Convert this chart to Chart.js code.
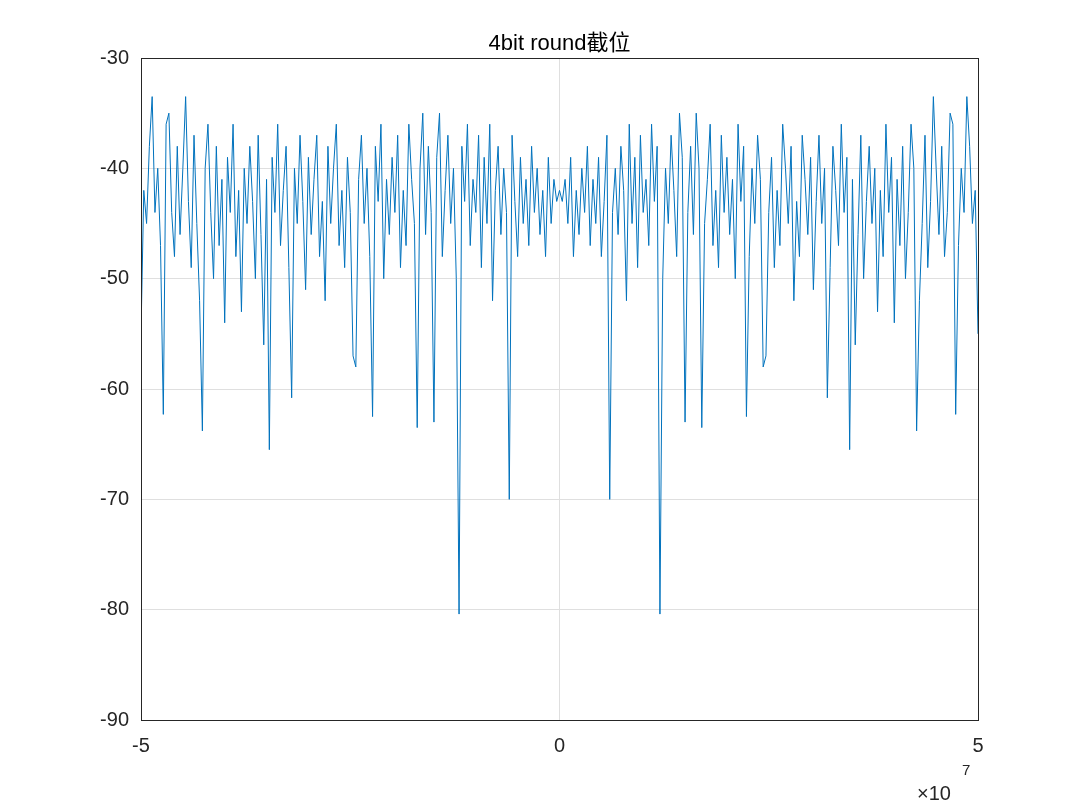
<!DOCTYPE html>
<html><head><meta charset="utf-8">
<script src="https://cdn.jsdelivr.net/npm/chart.js@4"></script>
<style>html,body{margin:0;padding:0;background:#fff}#c{display:block}</style>
</head><body><canvas id="c" width="1080" height="810"></canvas>
<script>
const titleText = "4bit round截位";
const xMin = -5, xMax = 5;
const xTicks = [-5, 0, 5];
const yTicks = [-90,-80,-70,-60,-50,-40,-30];
const yValues = [
-55,-42,-45,-38,-33.5,-44,-40,-47,-62.3,-36,
-35,-44,-48,-38,-46,-40,-33.5,-43,-49,-37,
-45,-52,-63.8,-40,-36,-44,-50,-38,-47,-41,
-54,-39,-44,-36,-48,-42,-53,-40,-45,-38,
-43,-50,-37,-46,-56,-41,-65.5,-39,-44,-36,
-47,-42,-38,-49,-60.8,-40,-45,-37,-43,-51,
-39,-46,-41,-37,-48,-43,-52,-38,-45,-40,
-36,-47,-42,-49,-39,-44,-57,-58,-41,-37,
-45,-40,-48,-62.5,-38,-43,-36,-50,-41,-46,
-39,-44,-37,-49,-42,-47,-36,-41,-45,-63.5,
-40,-35,-46,-38,-44,-63,-39,-35,-48,-42,
-37,-45,-40,-50,-80.4,-38,-43,-36,-47,-41,
-44,-37,-49,-39,-45,-36,-52,-42,-38,-46,
-40,-44,-70,-37,-43,-48,-39,-45,-41,-47,
-38,-44,-40,-46,-42,-48,-39,-45,-41,-43,
-42,
-43,-41,-45,-39,-48,-42,-46,-40,-44,-38,
-47,-41,-45,-39,-48,-43,-37,-70,-44,-40,
-46,-38,-42,-52,-36,-45,-39,-49,-37,-44,
-41,-47,-36,-43,-38,-80.4,-50,-40,-45,-37,
-42,-48,-35,-39,-63,-44,-38,-46,-35,-40,
-63.5,-45,-41,-36,-47,-42,-49,-37,-44,-39,
-46,-41,-50,-36,-43,-38,-62.5,-48,-40,-45,
-37,-41,-58,-57,-44,-39,-49,-42,-47,-36,
-40,-45,-38,-52,-43,-48,-37,-41,-46,-39,
-51,-43,-37,-45,-40,-60.8,-49,-38,-42,-47,
-36,-44,-39,-65.5,-41,-56,-46,-37,-50,-43,
-38,-45,-40,-53,-42,-48,-36,-44,-39,-54,
-41,-47,-38,-50,-44,-36,-40,-63.8,-52,-45,
-37,-49,-43,-33.5,-40,-46,-38,-48,-44,-35,
-36,-62.3,-47,-40,-44,-33.5,-38,-45,-42,-55
];
const step = (xMax - xMin) / (yValues.length - 1);
const points = yValues.map((y, i) => ({x: xMin + i * step, y}));
const font = {family: "Arial, 'Liberation Sans', 'Noto Sans CJK SC'", size: 20};
const deco = {
  id: 'deco',
  afterDraw(chart) {
    const {ctx, chartArea: a} = chart;
    ctx.save();
    ctx.strokeStyle = '#262626'; ctx.lineWidth = 1;
    ctx.strokeRect(a.left + 0.5, a.top + 0.5, a.right - a.left, a.bottom - a.top);
    ctx.fillStyle = '#000';
    ctx.font = "22px Arial, 'Liberation Sans', 'Noto Sans CJK SC'";
    ctx.textAlign = 'center'; ctx.textBaseline = 'bottom';
    ctx.fillText(titleText, (a.left + a.right) / 2, a.top - 3);
    ctx.fillStyle = '#262626';
    ctx.textAlign = 'left'; ctx.textBaseline = 'alphabetic';
    ctx.font = "20px Arial, 'Liberation Sans'";
    ctx.fillText('×10', 917, 800);
    ctx.font = "15px Arial, 'Liberation Sans'";
    ctx.fillText('7', 962, 775);
    ctx.restore();
  }
};
new Chart(document.getElementById('c'), {
  type: 'line',
  data: {datasets: [{data: points, borderColor: '#0072BD', borderWidth: 1, pointRadius: 0, tension: 0, fill: false}]},
  options: {
    responsive: false, animation: false,
    layout: {padding: {left: 0, right: 102, top: 58, bottom: 0}},
    plugins: {legend: {display: false}, tooltip: {enabled: false}},
    scales: {
      x: {type: 'linear', min: xMin, max: xMax,
        afterFit(s) { s.height = 90; },
        afterBuildTicks(s) { s.ticks = xTicks.map(v => ({value: v})); },
        ticks: {font, color: '#262626', padding: 14, callback: v => String(v)},
        grid: {color: '#dfdfdf', tickLength: 0}, border: {color: '#262626'}},
      y: {min: -90, max: -30,
        afterFit(s) { s.width = 141; },
        afterBuildTicks(s) { s.ticks = yTicks.map(v => ({value: v})); },
        ticks: {font, color: '#262626', padding: 12},
        grid: {color: '#dfdfdf', tickLength: 0}, border: {color: '#262626'}}
    }
  },
  plugins: [deco]
});
</script></body></html>
